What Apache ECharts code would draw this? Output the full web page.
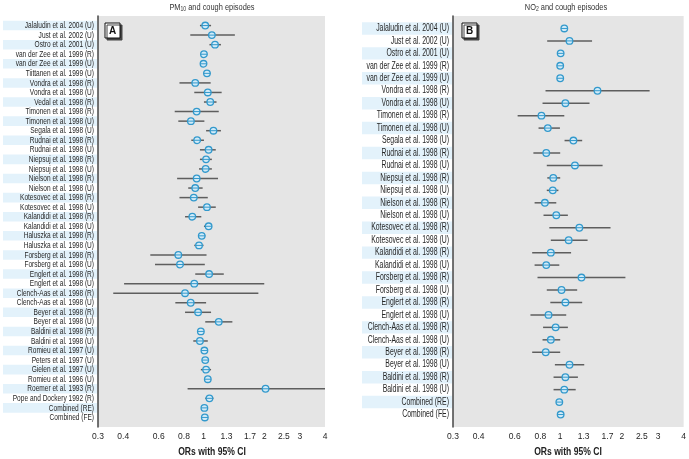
<!DOCTYPE html>
<html>
<head>
<meta charset="utf-8">
<script src="https://cdn.jsdelivr.net/npm/echarts@6/dist/echarts.min.js"></script>
<style>
    html, body { margin: 0; padding: 0; background: #fff; }
    #chart { width: 689px; height: 459px; }
</style>
</head>
<body>
<div id="chart"></div>
<script>
    // x-axis tick labels (both panels)
    var ticks = [0.3, 0.4, 0.6, 0.8, 1, 1.3, 1.7, 2, 2.5, 3, 4];

    // panel A: PM10
    var pmStudies = [
        'Jalaludin et al. 2004 (U)', 'Just et al. 2002 (U)', 'Ostro et al. 2001 (U)',
        'van der Zee et al. 1999 (R)', 'van der Zee et al. 1999 (U)', 'Tiittanen et al. 1999 (U)',
        'Vondra et al. 1998 (R)', 'Vondra et al. 1998 (U)', 'Vedal et al. 1998 (R)',
        'Timonen et al. 1998 (R)', 'Timonen et al. 1998 (U)', 'Segala et al. 1998 (U)',
        'Rudnai et al. 1998 (R)', 'Rudnai et al. 1998 (U)', 'Niepsuj et al. 1998 (R)',
        'Niepsuj et al. 1998 (U)', 'Nielson et al. 1998 (R)', 'Nielson et al. 1998 (U)',
        'Kotesovec et al. 1998 (R)', 'Kotesovec et al. 1998 (U)', 'Kalandidi et al. 1998 (R)',
        'Kalandidi et al. 1998 (U)', 'Haluszka et al. 1998 (R)', 'Haluszka et al. 1998 (U)',
        'Forsberg et al. 1998 (R)', 'Forsberg et al. 1998 (U)', 'Englert et al. 1998 (R)',
        'Englert et al. 1998 (U)', 'Clench-Aas et al. 1998 (R)', 'Clench-Aas et al. 1998 (U)',
        'Beyer et al. 1998 (R)', 'Beyer et al. 1998 (U)', 'Baldini et al. 1998 (R)',
        'Baldini et al. 1998 (U)', 'Romieu et al. 1997 (U)', 'Peters et al. 1997 (U)',
        'Gielen et al. 1997 (U)', 'Romieu et al. 1996 (U)', 'Roemer et al. 1993 (R)',
        'Pope and Dockery 1992 (R)', 'Combined (RE)', 'Combined (FE)'
    ];
    var pmOR = [1.02, 1.10, 1.14, 1.005, 1.00, 1.04, 0.91, 1.05, 1.08, 0.925, 0.866, 1.12,
        0.93, 1.06, 1.03, 1.025, 0.925, 0.91, 0.895, 1.04, 0.88, 1.06, 0.98, 0.95,
        0.75, 0.765, 1.066, 0.90, 0.81, 0.864, 0.94, 1.19, 0.97, 0.96, 1.01, 1.02,
        1.03, 1.05, 2.03, 1.07, 1.01, 1.015];
    var pmLow = [0.96, 0.86, 1.07, 0.99, 0.99, 1.00, 0.76, 0.90, 1.005, 0.72, 0.75, 1.03,
        0.87, 0.96, 0.96, 0.95, 0.74, 0.84, 0.76, 0.94, 0.81, 1.005, 0.94, 0.90,
        0.545, 0.575, 0.91, 0.404, 0.357, 0.725, 0.81, 1.02, 0.95, 0.89, 1.00, 1.01,
        0.97, 1.03, 0.834, 1.02, 0.995, 1.005];
    var pmHigh = [1.09, 1.43, 1.22, 1.02, 1.01, 1.08, 1.085, 1.23, 1.16, 1.19, 1.01, 1.22,
        1.005, 1.15, 1.10, 1.10, 1.18, 0.99, 1.05, 1.15, 0.975, 1.10, 1.02, 1.00,
        1.035, 1.015, 1.26, 2.0, 1.87, 1.03, 1.09, 1.39, 0.99, 1.05, 1.02, 1.03,
        1.09, 1.07, 4.8, 1.12, 1.025, 1.025];

    // panel B: NO2
    var no2Studies = [
        'Jalaludin et al. 2004 (U)', 'Just et al. 2002 (U)', 'Ostro et al. 2001 (U)',
        'van der Zee et al. 1999 (R)', 'van der Zee et al. 1999 (U)', 'Vondra et al. 1998 (R)',
        'Vondra et al. 1998 (U)', 'Timonen et al. 1998 (R)', 'Timonen et al. 1998 (U)',
        'Segala et al. 1998 (U)', 'Rudnai et al. 1998 (R)', 'Rudnai et al. 1998 (U)',
        'Niepsuj et al. 1998 (R)', 'Niepsuj et al. 1998 (U)', 'Nielson et al. 1998 (R)',
        'Nielson et al. 1998 (U)', 'Kotesovec et al. 1998 (R)', 'Kotesovec et al. 1998 (U)',
        'Kalandidi et al. 1998 (R)', 'Kalandidi et al. 1998 (U)', 'Forsberg et al. 1998 (R)',
        'Forsberg et al. 1998 (U)', 'Englert et al. 1998 (R)', 'Englert et al. 1998 (U)',
        'Clench-Aas et al. 1998 (R)', 'Clench-Aas et al. 1998 (U)', 'Beyer et al. 1998 (R)',
        'Beyer et al. 1998 (U)', 'Baldini et al. 1998 (R)', 'Baldini et al. 1998 (U)',
        'Combined (RE)', 'Combined (FE)'
    ];
    var no2OR = [1.047, 1.11, 1.005, 1.00, 1.00, 1.52, 1.06, 0.81, 0.87, 1.16, 0.855, 1.18,
        0.925, 0.92, 0.842, 0.957, 1.24, 1.10, 0.90, 0.855, 1.27, 1.015, 1.06, 0.877,
        0.95, 0.90, 0.85, 1.11, 1.06, 1.047, 0.99, 1.005];
    var no2Low = [1.01, 0.864, 0.99, 0.99, 0.99, 0.848, 0.82, 0.62, 0.784, 1.05, 0.74, 0.86,
        0.865, 0.86, 0.75, 0.829, 0.885, 0.90, 0.73, 0.75, 0.775, 0.86, 0.895, 0.716,
        0.825, 0.82, 0.73, 0.942, 0.928, 0.928, 0.98, 0.995];
    var no2High = [1.08, 1.43, 1.02, 1.01, 1.01, 2.73, 1.39, 1.047, 0.997, 1.28, 1.0, 1.61,
        1.0, 0.98, 0.957, 1.09, 1.76, 1.36, 1.13, 0.99, 2.08, 1.21, 1.28, 1.07,
        1.09, 1.0, 1.0, 1.31, 1.22, 1.19, 1.00, 1.015];

    var font = "'Liberation Sans', Arial, sans-serif";
    var squeeze = 0.69;   // narrow type like the printed figure

    var mychart = echarts.init(document.getElementById('chart'));

    function rows(or, lo, hi) {
        return or.map(function (v, i) { return [i, v, lo[i], hi[i]]; });
    }

    // one row: label stripe + label, CI line, marker
    function makeRender(names, rowH, boxW, fontSize) {
        return function (params, api) {
            var i = api.value(0);
            var cs = params.coordSys;
            var c = api.coord([api.value(1), i]);
            var l = api.coord([api.value(2), i]);
            var h = api.coord([api.value(3), i]);
            var x1 = Math.max(l[0], cs.x), x2 = Math.min(h[0], cs.x + cs.width);
            var r = 3.3;
            var kids = [];
            if (i % 2 === 0) {
                kids.push({type: 'rect', shape: {x: cs.x - boxW - 1, y: c[1] - rowH / 2, width: boxW, height: rowH},
                    style: {fill: '#e3f2fb'}});
            }
            kids.push({type: 'text', x: cs.x - 4, y: c[1], scaleX: squeeze,
                style: {text: names[i], fontSize: fontSize, fontFamily: font, fill: '#262626',
                    align: 'right', verticalAlign: 'middle'}});
            kids.push({type: 'line', shape: {x1: x1, y1: l[1], x2: x2, y2: h[1]},
                style: {stroke: '#5e5e5e', lineWidth: 1.5}});
            kids.push({type: 'circle', shape: {cx: c[0], cy: c[1], r: r},
                style: {fill: '#d2ebf8', stroke: '#3399cc', lineWidth: 1.3}});
            kids.push({type: 'line', shape: {x1: c[0] - r, y1: c[1], x2: c[0] + r, y2: c[1]},
                style: {stroke: '#3399cc', lineWidth: 1}});
            return {type: 'group', children: kids};
        };
    }

    function yAxisFor(idx, names) {
        return {
            gridIndex: idx,
            type: 'value',
            inverse: true,
            min: -1,
            max: names.length,
            interval: 1,
            axisLine: {show: true, onZero: false, lineStyle: {color: '#444', width: 1.5}},
            axisTick: {show: false},
            splitLine: {show: false},
            axisLabel: {show: false}
        };
    }

    function xAxisFor(idx) {
        return {
            gridIndex: idx,
            type: 'log',
            min: 0.3,
            max: 4,
            axisLine: {show: false, onZero: false},
            axisTick: {show: false},
            splitLine: {show: false},
            axisLabel: {
                customValues: ticks,
                margin: 5,
                fontSize: 8.5,
                fontFamily: font,
                color: '#262626',
                formatter: function (v) { return String(Math.round(v * 10) / 10); }
            }
        };
    }

    function panelBox(x, letter) {
        return {type: 'group', x: x, y: 23, children: [
            {type: 'rect', shape: {x: 0, y: 0, width: 15, height: 15},
                style: {fill: '#fff', stroke: '#111', lineWidth: 1,
                    shadowColor: '#444', shadowOffsetX: 2, shadowOffsetY: 2, shadowBlur: 0}},
            {type: 'text', x: 7.5, y: 8,
                style: {text: letter, fontSize: 10, fontWeight: 'bold', fontFamily: font,
                    fill: '#111', align: 'center', verticalAlign: 'middle'}}
        ]};
    }

    var titleRich = {
        a: {fontSize: 9.5, lineHeight: 12, fontFamily: font, fill: '#333', verticalAlign: 'middle'},
        b: {fontSize: 6.5, lineHeight: 12, fontFamily: font, fill: '#333', verticalAlign: 'bottom'}
    };

    function panelTitle(x, text) {
        return {type: 'text', x: x, y: 7, scaleX: 0.78,
            style: {text: text, rich: titleRich, align: 'center', verticalAlign: 'middle'}};
    }

    function axisName(x) {
        return {type: 'text', x: x, y: 452, scaleX: 0.78,
            style: {text: 'ORs with 95% CI', fontSize: 11, fontWeight: 'bold', fontFamily: font,
                fill: '#222', align: 'center', verticalAlign: 'middle'}};
    }

    var option = {
        animation: false,
        backgroundColor: '#fff',
        grid: [
            {left: 98, top: 16, width: 227, height: 411, show: true, backgroundColor: '#e5e5e5', borderWidth: 0},
            {left: 453, top: 16, width: 231, height: 411, show: true, backgroundColor: '#e5e5e5', borderWidth: 0}
        ],
        xAxis: [xAxisFor(0), xAxisFor(1)],
        yAxis: [yAxisFor(0, pmStudies), yAxisFor(1, no2Studies)],
        series: [
            {type: 'custom', xAxisIndex: 0, yAxisIndex: 0, clip: false,
                renderItem: makeRender(pmStudies, 9.56, 94, 9.5),
                encode: {y: 0, x: [1, 2, 3]}, data: rows(pmOR, pmLow, pmHigh)},
            {type: 'custom', xAxisIndex: 1, yAxisIndex: 1, clip: false,
                renderItem: makeRender(no2Studies, 12.45, 90, 10),
                encode: {y: 0, x: [1, 2, 3]}, data: rows(no2OR, no2Low, no2High)}
        ],
        graphic: [
            panelTitle(212, '{a|PM}{b|10}{a| and cough episodes}'),
            panelTitle(566, '{a|NO}{b|2}{a| and cough episodes}'),
            axisName(212),
            axisName(568),
            panelBox(105, 'A'),
            panelBox(462, 'B')
        ]
    };
    mychart.setOption(option);
</script>
</body>
</html>
